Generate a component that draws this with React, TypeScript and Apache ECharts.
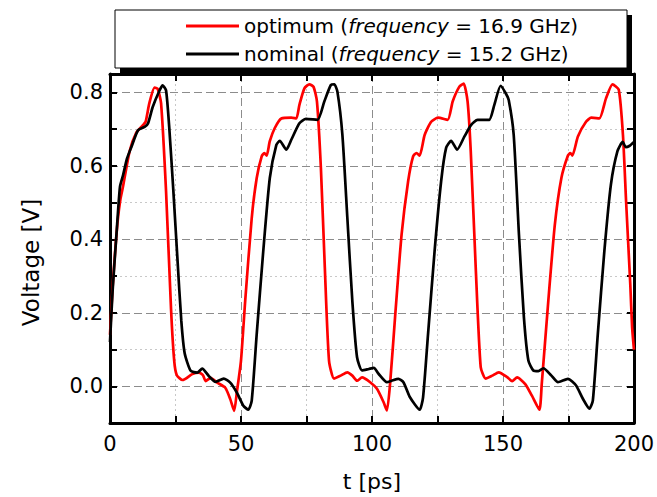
import React, { useEffect, useRef } from 'react';
import * as echarts from 'echarts';

// Series names, frequencies and colours (legend)
const seriesNames = ['optimum', 'nominal'];
const seriesFreqs = ['16.9 GHz', '15.2 GHz'];
const seriesColors = ['#ff0000', '#000000'];

// Tick labels that are shown
const xTickLabels = [0, 50, 100, 150, 200];
const yTickLabels = ['0.0', '0.2', '0.4', '0.6', '0.8'];

// optimum (16.9 GHz): [t (ps), voltage (V)]
const optimumData = [
  [0, 0.14], [1, 0.27], [2, 0.37], [3, 0.455], [4, 0.51], [5, 0.545], [7.5, 0.64], [10, 0.69],
  [12.5, 0.71], [13.6, 0.72], [15, 0.77], [17, 0.813], [18.2, 0.81], [19.5, 0.77], [21.4, 0.53],
  [23.3, 0.21], [24.5, 0.07], [25.5, 0.03], [27.7, 0.017], [31.4, 0.033], [34, 0.037], [35.5, 0.03],
  [36.5, 0.014], [38.4, 0.023], [40.9, 0.01], [44, -0.004], [45.9, -0.035], [47.4, -0.067],
  [48.4, -0.017], [50, 0.07], [51.6, 0.232], [54.1, 0.458], [56, 0.567], [57.9, 0.626], [58.9, 0.635],
  [59.8, 0.628], [61, 0.667], [62.9, 0.703], [65.4, 0.729], [69.2, 0.731], [71.1, 0.729], [72.3, 0.766],
  [74.2, 0.811], [76.1, 0.822], [77.7, 0.815], [79, 0.775], [80.5, 0.594], [82, 0.323], [83.6, 0.07],
  [85.5, 0.021], [88, 0.029], [90.6, 0.038], [92.5, 0.029], [94.3, 0.015], [96.2, 0.024], [99.3, 0.011],
  [101.9, -0.007], [104.4, -0.043], [105.7, -0.066], [106.9, 0.006], [108.8, 0.187], [111.3, 0.413],
  [113.8, 0.558], [115.7, 0.626], [117, 0.635], [118.2, 0.628], [120.1, 0.684], [122.6, 0.72],
  [125.2, 0.731], [128.9, 0.725], [130.8, 0.775], [133.3, 0.815], [135, 0.824], [136.5, 0.775],
  [137.7, 0.64], [139.6, 0.323], [141.5, 0.052], [143.4, 0.021], [145.9, 0.029], [148.4, 0.038],
  [151.6, 0.025], [153.5, 0.014], [155.4, 0.024], [158.5, 0.006], [161, -0.025], [163.9, -0.064],
  [164.8, 0.006], [167.3, 0.232], [169.8, 0.44], [172.3, 0.567], [174.8, 0.628], [175.7, 0.635],
  [176.5, 0.628], [178.6, 0.68], [181.7, 0.72], [183.7, 0.731], [186.8, 0.729], [189.3, 0.783],
  [191.8, 0.822], [194.2, 0.807], [195.8, 0.684], [197, 0.503], [198.6, 0.277], [199.3, 0.16], [200, 0.1],
];

// nominal (15.2 GHz): [t (ps), voltage (V)]
const nominalData = [
  [0, 0.12], [1, 0.26], [2.5, 0.417], [3.8, 0.543], [5, 0.575], [6.5, 0.62], [8.2, 0.652], [10.7, 0.697],
  [13.2, 0.706], [14.5, 0.715], [16.3, 0.76], [18.9, 0.805], [20.1, 0.819], [21.4, 0.805], [22.6, 0.706],
  [24.2, 0.53], [25.8, 0.34], [27.2, 0.18], [28.5, 0.09], [30.8, 0.042], [33.3, 0.037], [35.2, 0.048],
  [37.7, 0.028], [40.3, 0.012], [43.4, 0.021], [45.9, 0.01], [48.4, -0.017], [50.9, -0.053],
  [52.8, -0.064], [54.1, -0.039], [56, 0.142], [58.5, 0.368], [61, 0.567], [63.5, 0.657], [64.8, 0.668],
  [67.3, 0.644], [69.2, 0.671], [72.3, 0.716], [74.8, 0.728], [79.2, 0.725], [81.8, 0.775], [84.3, 0.82],
  [85.6, 0.822], [86.8, 0.802], [88.7, 0.685], [90.6, 0.458], [92.5, 0.232], [94.3, 0.079], [96.2, 0.043],
  [98.8, 0.047], [100.7, 0.05], [102.5, 0.034], [105.7, 0.011], [107.5, 0.015], [110.1, 0.02], [112, 0.011],
  [114.5, -0.03], [118.2, -0.064], [119.5, -0.03], [121.4, 0.142], [123.9, 0.368], [126.4, 0.558],
  [128.3, 0.649], [130.2, 0.668], [132.5, 0.644], [135.3, 0.68], [137.8, 0.711], [140.3, 0.725],
  [144.7, 0.725], [146.7, 0.766], [149.1, 0.818], [151.1, 0.797], [152.2, 0.779], [154.1, 0.684],
  [156.1, 0.413], [158, 0.187], [159.7, 0.07], [161.6, 0.043], [163.5, 0.041], [165.4, 0.049],
  [168.5, 0.029], [171, 0.011], [174.8, 0.02], [177.9, 0.002], [180.5, -0.034], [183, -0.061],
  [184.3, -0.039], [186.2, 0.142], [188.7, 0.368], [191.2, 0.549], [193.7, 0.64], [195.7, 0.665],
  [196.9, 0.651], [198.2, 0.654], [200, 0.665],
];

const FONT = '"DejaVu Sans", "Liberation Sans", sans-serif';

export default function App() {
  const ref = useRef<HTMLDivElement>(null);

  useEffect(() => {
    if (!ref.current) return;
    const chart = echarts.init(ref.current, null, { renderer: 'svg' });

    const axisLine = { show: true, onZero: false, lineStyle: { color: '#000', width: 3 } };
    const axisTick = { show: true, inside: true, length: 7, lineStyle: { color: '#000', width: 2 } };
    const majorColor = '#8c8c8c';
    const minorColor = '#c8c8c8';
    const none = 'rgba(0,0,0,0)';
    const xMin = 0, xMax = 200, xInt = 25;
    const yMin = -0.1, yMax = 0.85, yInt = 0.1;

    const xFmt = (v: number) => (xTickLabels.indexOf(Math.round(v)) >= 0 && Math.abs(v - Math.round(v)) < 1e-6 ? String(Math.round(v)) : '');
    const yFmt = (v: number) => {
      const s = (Math.round(v * 10) / 10).toFixed(1);
      return Math.abs(v * 10 - Math.round(v * 10)) < 1e-6 && yTickLabels.indexOf(s) >= 0 ? s : '';
    };

    const richStyles = {
      a: { fontFamily: FONT, fontSize: 20, color: '#000' },
      i: { fontFamily: FONT, fontSize: 20, color: '#000', fontStyle: 'italic' },
    };

    chart.setOption({
      animation: false,
      backgroundColor: '#fff',
      grid: { left: 110, top: 74, width: 530, height: 350, containLabel: false },
      graphic: [
        { type: 'rect', z: 1, shape: { x: 120, y: 15, width: 512, height: 58 }, style: { fill: '#000' } },
        { type: 'rect', z: 2, shape: { x: 115, y: 10, width: 512, height: 58 }, style: { fill: '#fff', stroke: '#000', lineWidth: 1 } },
      ],
      legend: {
        orient: 'vertical',
        left: 181,
        top: 10,
        icon: 'rect',
        itemWidth: 53,
        itemHeight: 3,
        itemGap: 6,
        z: 10,
        selectedMode: false,
        data: seriesNames,
        textStyle: { fontFamily: FONT, fontSize: 20, color: '#000', lineHeight: 22, rich: richStyles },
        formatter: (name: string) => {
          const idx = seriesNames.indexOf(name);
          return `{a|${name} (}{i|frequency}{a| = ${seriesFreqs[idx]})}`;
        },
      },
      xAxis: [
        {
          type: 'value', position: 'bottom', min: xMin, max: xMax, interval: xInt,
          axisLine, axisTick,
          axisLabel: { formatter: xFmt, fontFamily: FONT, fontSize: 21, color: '#000', margin: 10 },
          splitLine: { show: true, lineStyle: { type: [2, 3], width: 1, color: [none, minorColor] } },
          name: 't [ps]', nameLocation: 'middle', nameGap: 47,
          nameTextStyle: { fontFamily: FONT, fontSize: 22, color: '#000' },
        },
        {
          type: 'value', position: 'top', min: xMin, max: xMax, interval: xInt,
          axisLine, axisTick,
          axisLabel: { show: false },
          splitLine: { show: true, lineStyle: { type: [8, 4], width: 1, color: [majorColor, none] } },
        },
      ],
      yAxis: [
        {
          type: 'value', position: 'left', min: yMin, max: yMax, interval: yInt,
          axisLine, axisTick,
          axisLabel: { formatter: yFmt, fontFamily: FONT, fontSize: 21, color: '#000', margin: 7 },
          splitLine: { show: true, lineStyle: { type: [2, 3], width: 1, color: [minorColor, none] } },
          name: 'Voltage [V]', nameLocation: 'middle', nameGap: 68, nameRotate: 90,
          nameTextStyle: { fontFamily: FONT, fontSize: 23, color: '#000', padding: [0, 28, 0, 0] },
        },
        {
          type: 'value', position: 'right', min: yMin, max: yMax, interval: yInt,
          axisLine, axisTick,
          axisLabel: { show: false },
          splitLine: { show: true, lineStyle: { type: [8, 4], width: 1, color: [none, majorColor] } },
        },
      ],
      series: [
        {
          name: seriesNames[0], type: 'line', xAxisIndex: 0, yAxisIndex: 0,
          data: optimumData, symbol: 'none', showSymbol: false, smooth: 0.2, z: 3,
          lineStyle: { color: seriesColors[0], width: 2.7 }, itemStyle: { color: seriesColors[0] },
        },
        {
          name: seriesNames[1], type: 'line', xAxisIndex: 0, yAxisIndex: 0,
          data: nominalData, symbol: 'none', showSymbol: false, smooth: 0.2, z: 4,
          lineStyle: { color: seriesColors[1], width: 2.7 }, itemStyle: { color: seriesColors[1] },
        },
      ],
    });

    return () => chart.dispose();
  }, []);

  return <div ref={ref} style={{ position: 'fixed', left: 0, top: 0, width: 657, height: 497 }} />;
}
